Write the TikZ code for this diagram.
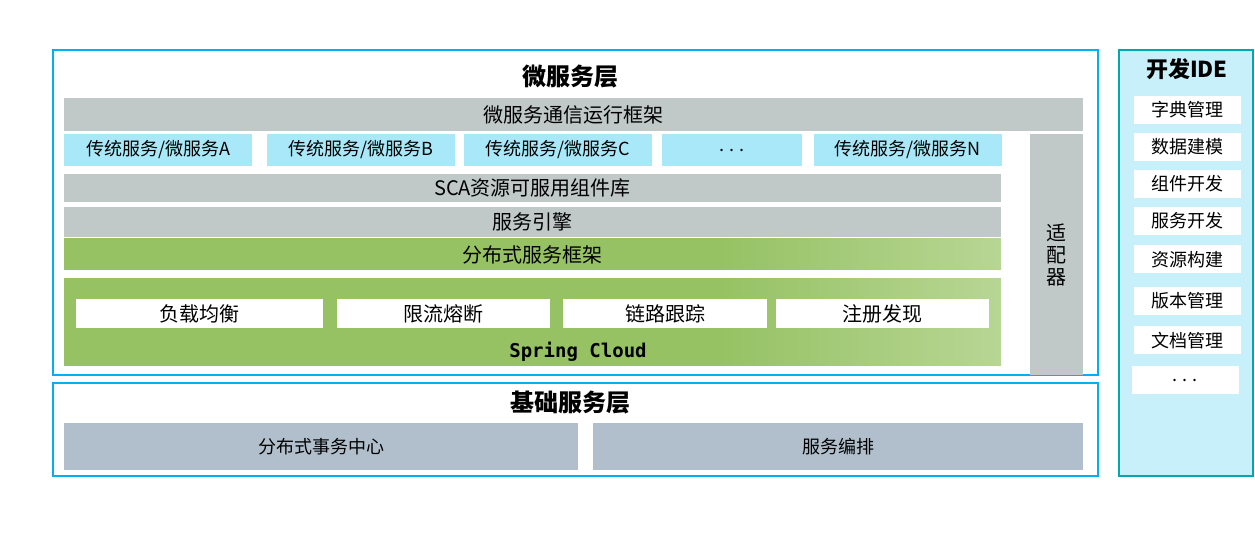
\documentclass[tikz,border=0pt]{standalone}
\usepackage{fontspec}
\setmainfont{Noto Sans CJK SC}
\setmonofont{DejaVu Sans Mono}
\usetikzlibrary{positioning}
\definecolor{layerblue}{HTML}{00B0F0}
\definecolor{barGray}{HTML}{C0C8C8}
\definecolor{svcBlue}{HTML}{A8E8F8}
\definecolor{baseGray}{HTML}{B0BFCB}
\definecolor{ideFill}{HTML}{C8F0FA}
\definecolor{ideLine}{HTML}{00A8B0}
\definecolor{greenDark}{HTML}{96C264}
\definecolor{greenLight}{HTML}{EEF7E4}
\pgfdeclarehorizontalshading{greenfade}{100bp}{color(0bp)=(greenDark); color(50bp)=(greenDark);
  color(60bp)=(greenDark); color(100bp)=(greenLight)}
\tikzset{
  bar/.style = {fill = barGray, inner sep = 0pt, font = \fontsize{20}{22}\selectfont},
  svc/.style = {fill = svcBlue, inner sep = 0pt, minimum width = 188pt, minimum height = 32pt, font = \fontsize{18}{20}\selectfont},
  green bar/.style = {shading = greenfade, inner sep = 0pt, minimum width = 937pt},
  tool/.style = {fill = white, inner sep = 0pt, minimum height = 29pt, font = \fontsize{20}{22}\selectfont},
  ide item/.style = {fill = white, inner sep = 0pt, minimum width = 107pt, minimum height = 28pt, font = \fontsize{18}{20}\selectfont},
  base box/.style = {fill = baseGray, inner sep = 0pt, minimum height = 47pt, font = \fontsize{18}{20}\selectfont},
  layer/.style = {draw = layerblue, line width = 2pt, fill = white, inner sep = 0pt},
  title/.style = {font = \fontsize{24}{26}\selectfont\bfseries}
}
\begin{document}
\begin{tikzpicture}[x = 1pt, y = -1pt]
  \useasboundingbox (0, 0) rectangle (1255, 534);

  % layers
  \node[layer, minimum width = 1045pt, minimum height = 325pt] (micro) at (575.5, 212.5) {};
  \node[layer, minimum width = 1045pt, minimum height = 93pt] (base) at (575.5, 429.5) {};
  \node[draw = ideLine, line width = 2pt, fill = ideFill, inner sep = 0pt, minimum width = 134pt, minimum height = 426pt] (ide) at (1186, 263) {};

  % micro service layer
  \node[title] (microTitle) at (570, 77) {微服务层};
  \node[bar, minimum width = 1019pt, minimum height = 33pt] (comm) at (573.5, 114.5) {微服务通信运行框架};
  \node[svc] (svcA) at (158, 150) {传统服务/微服务A};
  \node[svc] (svcB) at (361, 150) {传统服务/微服务B};
  \node[svc] (svcC) at (558, 150) {传统服务/微服务C};
  \node[svc, minimum width = 140pt] (svcDots) at (732, 150) {. . .};
  \node[svc] (svcN) at (907.5, 150) {传统服务/微服务N};
  \node[bar, minimum width = 937pt, minimum height = 28pt] (sca) at (532.5, 188) {SCA资源可服用组件库};
  \node[bar, minimum width = 937pt, minimum height = 30pt] (engine) at (532.5, 222) {服务引擎};
  \node[green bar, minimum height = 31pt, font = \fontsize{20}{22}\selectfont] (dist) at (532.5, 254.5) {分布式服务框架};
  \node[green bar, minimum height = 86pt] (cloud) at (532.5, 322) {};
  \node[tool, minimum width = 247pt] (lb) at (199.5, 313.5) {负载均衡};
  \node[tool, minimum width = 213pt] (limit) at (443.5, 313.5) {限流熔断};
  \node[tool, minimum width = 204pt] (trace) at (665, 313.5) {链路跟踪};
  \node[tool, minimum width = 213pt] (reg) at (882.5, 313.5) {注册发现};
  \node[font = \fontsize{19}{21}\selectfont\ttfamily\bfseries] (spring) at (578, 352) {Spring Cloud};
  \node[bar, minimum width = 53pt, minimum height = 241pt, align = center] (adapter) at (1056.5, 254.5) {适\\配\\器};

  % base layer
  \node[title] (baseTitle) at (570, 403) {基础服务层};
  \node[base box, minimum width = 514pt] (tx) at (321, 446.5) {分布式事务中心};
  \node[base box, minimum width = 490pt] (orch) at (838, 446.5) {服务编排};

  % ide
  \node[title, font = \fontsize{22}{24}\selectfont\bfseries] (ideTitle) at (1187, 69) {开发IDE};
  \foreach \name/\txt/\y in {dict/字典管理/110, model/数据建模/147, comp/组件开发/184, dev/服务开发/221,
      res/资源构建/259.5, ver/版本管理/301, doc/文档管理/340.5}
    \node[ide item] (\name) at (1187, \y) {\txt};
  \node[ide item] (more) at (1185, 380) {. . .};
\end{tikzpicture}
\end{document}
